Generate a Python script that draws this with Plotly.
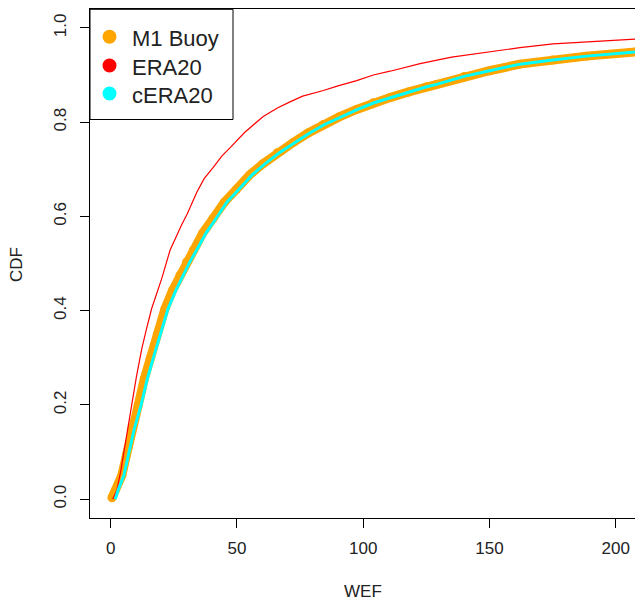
import plotly.graph_objects as go

buoy_wef = [0.5, 2, 4.4, 6.3, 8.3, 10.9, 13.3, 15.6, 18.5, 21.5, 24.5, 27.4, 30, 32.7, 36.5,
            40.6, 45, 49.9, 55, 60.4, 66, 72.3, 78.2, 84.2, 90.5, 97.4, 104, 110.6, 118,
            125.1, 129, 140, 150, 162, 175, 188.4, 208]
buoy_cdf = [0.003, 0.02, 0.05, 0.095, 0.148, 0.199, 0.255, 0.298, 0.35, 0.404, 0.443, 0.475,
            0.503, 0.528, 0.565, 0.596, 0.63, 0.658, 0.688, 0.712, 0.735, 0.757, 0.777, 0.795,
            0.811, 0.827, 0.841, 0.852, 0.864, 0.875, 0.880, 0.897, 0.909, 0.923, 0.932, 0.940,
            0.949]

era_wef = [0.8, 2.5, 4, 5.8, 8.3, 10.2, 12.3, 14.2, 16.2, 20.2, 23.5, 28.1, 30.3, 34.0, 37,
           40.6, 44, 47.5, 53, 60.4, 66, 71, 76, 84.2, 90, 97.4, 104, 110.6, 116, 122.5, 135,
           148.9, 162, 175.2, 190, 208]
era_cdf = [0.0, 0.02, 0.06, 0.115, 0.199, 0.26, 0.319, 0.362, 0.404, 0.468, 0.528, 0.582,
           0.605, 0.650, 0.68, 0.704, 0.728, 0.747, 0.778, 0.812, 0.830, 0.843, 0.855, 0.867,
           0.877, 0.888, 0.900, 0.908, 0.915, 0.924, 0.938, 0.949, 0.958, 0.966, 0.971, 0.976]

cera_wef = [1.8, 3, 5.2, 7.2, 9.3, 12, 14.5, 16.8, 19.8, 22.7, 25.8, 28.7, 31.3, 34, 37.8,
            41.8, 46, 50.9, 56, 61.2, 66.8, 73, 78.8, 84.7, 91, 97.8, 104.3, 110.8, 118,
            125.1, 129, 140, 150, 162, 175, 188.4, 208]
cera_cdf = [0.0, 0.02, 0.05, 0.095, 0.148, 0.199, 0.255, 0.298, 0.35, 0.404, 0.443, 0.475,
            0.503, 0.528, 0.565, 0.596, 0.63, 0.658, 0.688, 0.712, 0.735, 0.757, 0.777, 0.795,
            0.811, 0.827, 0.841, 0.852, 0.864, 0.875, 0.880, 0.897, 0.909, 0.923, 0.932, 0.940,
            0.949]

series_names = ["M1 Buoy", "ERA20", "cERA20"]
series_colors = ["#FFA500", "#FF0000", "#00FFFF"]

x_ticks = [0, 50, 100, 150, 200]
y_ticks = [0.0, 0.2, 0.4, 0.6, 0.8, 1.0]
y_tick_text = ["0.0", "0.2", "0.4", "0.6", "0.8", "1.0"]

W, H = 635, 603
ML, MR, MT, MB = 90, 0, 9, 85
PW, PH = W - ML - MR, H - MT - MB

FONT = "Liberation Sans, Arial, sans-serif"
TXT = "#222222"

fig = go.Figure()
fig.add_trace(go.Scatter(x=buoy_wef, y=buoy_cdf, mode="lines+markers", name=series_names[0],
                         line=dict(color=series_colors[0], width=9),
                         marker=dict(color=series_colors[0], size=9),
                         showlegend=False))
fig.add_trace(go.Scatter(x=era_wef, y=era_cdf, mode="lines", name=series_names[1],
                         line=dict(color=series_colors[1], width=1.2), showlegend=False))
fig.add_trace(go.Scatter(x=cera_wef, y=cera_cdf, mode="lines", name=series_names[2],
                         line=dict(color=series_colors[2], width=3), showlegend=False))


def px2paper(sx, sy):
    """screen pixel -> paper coords"""
    return (sx - ML) / PW, (H - MB - sy) / PH


shapes = []
annotations = []
# legend box
bx0, by0 = px2paper(90, 119.5)
bx1, by1 = px2paper(233, 9.3)
shapes.append(dict(type="rect", xref="paper", yref="paper", x0=bx0, x1=bx1, y0=by0, y1=by1,
                   line=dict(color="black", width=1), fillcolor="white", layer="above"))
row_y = [36.7, 65.5, 93.5]
for name, col, ry in zip(series_names, series_colors, row_y):
    cx, cy = px2paper(109.5, ry)
    shapes.append(dict(type="circle", xref="paper", yref="paper", xsizemode="pixel",
                       ysizemode="pixel", xanchor=cx, yanchor=cy, x0=-7, x1=7, y0=-7, y1=7,
                       fillcolor=col, line=dict(width=0), layer="above"))
    tx, ty = px2paper(130, ry + 1.5)
    annotations.append(dict(text=name, xref="paper", yref="paper", x=tx, y=ty,
                            xanchor="left", yanchor="middle", showarrow=False,
                            font=dict(family=FONT, size=22, color=TXT)))

# axis titles
wx, wy = px2paper(363, 591)
annotations.append(dict(text="WEF", xref="paper", yref="paper", x=wx, y=wy, xanchor="center",
                        yanchor="middle", showarrow=False,
                        font=dict(family=FONT, size=17, color=TXT)))
cx_, cy_ = px2paper(16, 265)
annotations.append(dict(text="CDF", xref="paper", yref="paper", x=cx_, y=cy_, xanchor="center",
                        yanchor="middle", showarrow=False, textangle=-90,
                        font=dict(family=FONT, size=17, color=TXT)))

fig.update_layout(
    width=W, height=H,
    margin=dict(l=ML, r=MR, t=MT, b=MB, pad=0),
    paper_bgcolor="white", plot_bgcolor="white",
    showlegend=False,
    shapes=shapes, annotations=annotations,
    xaxis=dict(range=[-8.19, 207.6], tickvals=x_ticks, ticks="outside", ticklen=9,
               tickcolor="black", showline=True, linecolor="black", linewidth=1,
               mirror=True, showgrid=False, zeroline=False,
               tickfont=dict(family=FONT, size=17, color=TXT), ticklabelstandoff=6),
    yaxis=dict(range=[-0.04, 1.04], tickvals=y_ticks, ticktext=y_tick_text, ticks="outside",
               ticklen=9, tickcolor="black", showline=True, linecolor="black", linewidth=1,
               mirror=False, showgrid=False, zeroline=False, tickangle=-90,
               tickfont=dict(family=FONT, size=17, color=TXT), ticklabelstandoff=7),
)

# remove the default page margin so the 635x603 figure fills the window exactly
fig.write_html("out.html",
               config={"displayModeBar": False},
               post_script="document.body.style.margin='0';"
                           "document.body.style.overflow='hidden';")
